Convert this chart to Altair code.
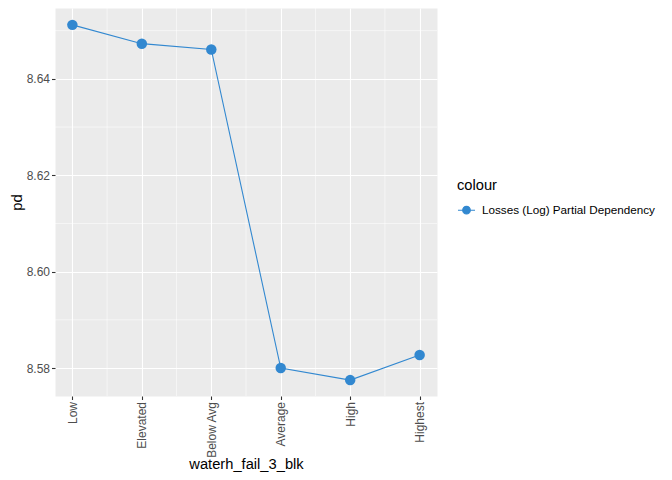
import altair as alt
import pandas as pd

categories = ["Low", "Elevated", "Below Avg", "Average", "High", "Highest"]
pd_values = [8.6512, 8.6473, 8.6461, 8.5800, 8.5775, 8.5827]
series_name = "Losses (Log) Partial Dependency"
y_major = [8.58, 8.60, 8.62, 8.64]
y_minor = [8.59, 8.61, 8.63, 8.65]
x_minor = [1.5, 2.5, 3.5, 4.5, 5.5]

df = pd.DataFrame({
    "idx": list(range(1, len(categories) + 1)),
    "cat": categories,
    "pd": pd_values,
    "colour": [series_name] * len(categories),
})
ymin_df = pd.DataFrame({"y": y_minor})
xmin_df = pd.DataFrame({"x": x_minor})

BLUE = "#3288D0"
cat_js = "[" + ",".join("'" + c + "'" for c in categories) + "]"

xscale = alt.Scale(domain=[0.75, 6.25], nice=False, zero=False)
yscale = alt.Scale(domain=[8.5742, 8.6547], nice=False, zero=False)

xaxis = alt.Axis(values=list(range(1, 7)), labelExpr=cat_js + "[datum.value-1]",
                 labelAngle=-90, title="waterh_fail_3_blk",
                 titleY=72, titleBaseline="alphabetic")
yaxis = alt.Axis(values=y_major, format=".2f", title="pd", titlePadding=2)

minor_y = alt.Chart(ymin_df).mark_rule(color="white", strokeWidth=0.55).encode(
    y=alt.Y("y:Q", scale=yscale, axis=yaxis)
)
minor_x = alt.Chart(xmin_df).mark_rule(color="white", strokeWidth=0.55).encode(
    x=alt.X("x:Q", scale=xscale, axis=xaxis)
)

line = alt.Chart(df).mark_line(color=BLUE, strokeWidth=1.1).encode(
    x=alt.X("idx:Q", scale=xscale, axis=xaxis),
    y=alt.Y("pd:Q", scale=yscale, axis=yaxis),
)
points = alt.Chart(df).mark_point(filled=True, size=110, opacity=1).encode(
    x=alt.X("idx:Q", scale=xscale, axis=xaxis),
    y=alt.Y("pd:Q", scale=yscale, axis=yaxis),
    color=alt.Color("colour:N", scale=alt.Scale(domain=[series_name], range=[BLUE]),
                    legend=alt.Legend(
                        title="colour", orient="none", legendX=402, legendY=170,
                        symbolType="M-1,0H1M-0.45,0A0.45,0.45,0,1,1,0.45,0A0.45,0.45,0,1,1,-0.45,0Z",
                        symbolSize=290, symbolStrokeColor=BLUE, symbolStrokeWidth=1.1,
                        symbolFillColor=BLUE, symbolOpacity=1,
                        labelFont="Liberation Sans", labelFontSize=11.7, labelColor="black",
                        labelLimit=0,
                        titleFont="Liberation Sans", titleFontSize=14.7, titleFontWeight="normal",
                        titleColor="black", titlePadding=8, labelOffset=6)),
)

chart = alt.layer(minor_y, minor_x, line, points).properties(
    width=382, height=388,
    padding={"left": 47, "top": 0, "right": 227, "bottom": 76},
    autosize=alt.AutoSizeParams(type="none"),
    background="white",
).configure_view(
    fill="#EBEBEB", stroke="transparent"
).configure_axis(
    grid=True, gridColor="white", gridWidth=1.1, domain=False,
    tickColor="#333333", tickSize=3.5, tickWidth=1.1,
    labelColor="#4D4D4D", labelFont="Liberation Sans", labelFontSize=12, labelPadding=2,
    titleFont="Liberation Sans", titleFontSize=14.7, titleFontWeight="normal", titleColor="black",
)

chart.save("out.html", embed_options={"renderer": "svg", "actions": False})
